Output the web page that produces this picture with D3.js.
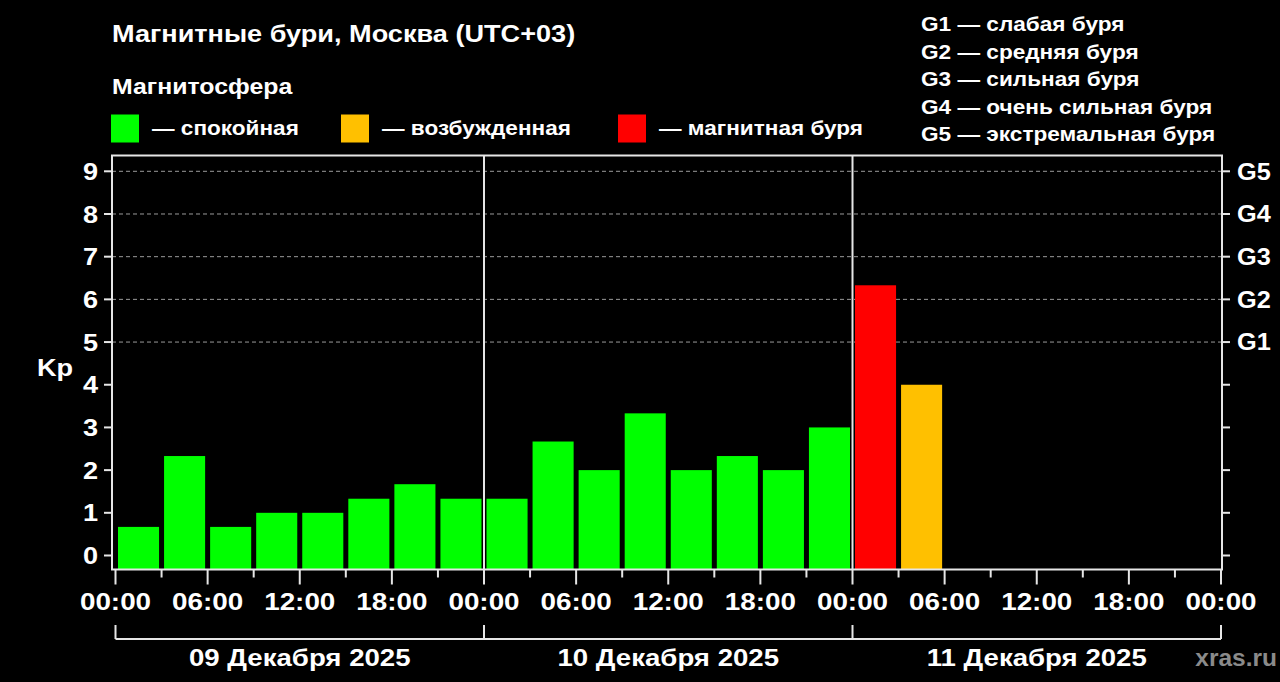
<!DOCTYPE html>
<html><head><meta charset="utf-8">
<script src="https://cdn.jsdelivr.net/npm/d3@7"></script>
<style>
html,body{margin:0;padding:0;background:#000;}
svg{display:block;}
text{font-family:"Liberation Sans",Arial,sans-serif;font-weight:bold;fill:#fff;}
</style></head>
<body><svg id="c" width="1280" height="682"></svg>
<script>
// ---- data ----
const days = ["09 Декабря 2025", "10 Декабря 2025", "11 Декабря 2025"];
const hourLabels = ["00:00", "06:00", "12:00", "18:00"];
const kpValues = [0.67, 2.33, 0.67, 1.0, 1.0, 1.33, 1.67, 1.33,
                  1.33, 2.67, 2.0, 3.33, 2.0, 2.33, 2.0, 3.0,
                  6.33, 4.0];
const levelNames = ["спокойная", "возбужденная", "магнитная буря"];
const levelColors = ["#00ff00", "#ffc000", "#ff0000"];
const gLabels = ["G1", "G2", "G3", "G4", "G5"];
const gNames = ["слабая буря", "средняя буря", "сильная буря", "очень сильная буря", "экстремальная буря"];
const yTicks = [0, 1, 2, 3, 4, 5, 6, 7, 8, 9];

function level(v) { return v >= 5 ? 2 : (v >= 4 ? 1 : 0); }

const svg = d3.select("#c");
const W = 1280, H = 682;
svg.append("rect").attr("width", W).attr("height", H).attr("fill", "#000");

// text helper with horizontal stretch
function txt(g, px, py, size, sx, anchor, str, dy) {
  const t = g.append("text")
    .attr("transform", `translate(${px},${py}) scale(${sx},1)`)
    .attr("font-size", size)
    .attr("text-anchor", anchor || "start")
    .text(str);
  if (dy) t.attr("dy", dy);
  return t;
}

const frameL = 112, frameR = 1222, frameT = 155.5, frameB = 569.5;
const x = d3.scaleLinear().domain([0, 72]).range([115.5, 1221]);
const y = d3.scaleLinear().domain([0, 9]).range([555.5, 171.3]);
const yBottom = y.invert(frameB);

// title & legends
txt(svg, 112, 42, 24, 1.13, "start", "Магнитные бури, Москва (UTC+03)");
txt(svg, 112, 94, 22, 1.13, "start", "Магнитосфера");
const legX = [111, 341, 618];
levelNames.forEach((n, i) => {
  svg.append("rect").attr("x", legX[i]).attr("y", 114.5).attr("width", 28).attr("height", 28).attr("fill", levelColors[i]);
  txt(svg, legX[i] + 41, 134.5, 21, 1.075, "start", "— " + n);
});
gLabels.forEach((g, i) => {
  txt(svg, 921, 31 + i * 27.5, 21, 1.077, "start", g + " — " + gNames[i]);
});

// grid lines (5..9)
const grid = svg.append("g");
yTicks.filter(t => t >= 5).forEach(t => {
  grid.append("line").attr("x1", frameL).attr("x2", frameR).attr("y1", y(t)).attr("y2", y(t))
    .attr("stroke", "#9a9a9a").attr("stroke-width", 1).attr("stroke-dasharray", "4,3");
});

// bars
svg.append("g").selectAll("rect").data(kpValues).join("rect")
  .attr("x", (d, i) => x(i * 3) + 2.5)
  .attr("width", (d, i) => x(i * 3 + 3) - x(i * 3) - 5)
  .attr("y", d => y(d))
  .attr("height", d => y(yBottom) - y(d))
  .attr("fill", d => levelColors[level(d)]);

// frame
const lc = "#e6e6e6";
svg.append("rect").attr("x", frameL).attr("y", frameT).attr("width", frameR - frameL).attr("height", frameB - frameT)
  .attr("fill", "none").attr("stroke", lc).attr("stroke-width", 2);
// day separators
[24, 48].forEach(h => {
  svg.append("line").attr("x1", x(h)).attr("x2", x(h)).attr("y1", frameT).attr("y2", frameB)
    .attr("stroke", lc).attr("stroke-width", 2);
});

// left y axis
const yl = svg.append("g");
yTicks.forEach(t => {
  yl.append("line").attr("x1", frameL - 8).attr("x2", frameL).attr("y1", y(t)).attr("y2", y(t)).attr("stroke", lc).attr("stroke-width", 2);
  txt(yl, 98, y(t), 24, 1.13, "end", t, "0.36em");
});
txt(svg, 55, 367, 24, 1.13, "middle", "Kp", "0.36em");

// right axis
const yr = svg.append("g");
yTicks.forEach(t => {
  yr.append("line").attr("x1", frameR).attr("x2", frameR + 8).attr("y1", y(t)).attr("y2", y(t)).attr("stroke", lc).attr("stroke-width", 2);
  if (t >= 5) txt(yr, 1237, y(t), 23, 1.1, "start", gLabels[t - 5], "0.36em");
});

// x axis ticks
const xa = svg.append("g");
d3.range(0, 73, 3).forEach(h => {
  const major = h % 6 === 0;
  xa.append("line").attr("x1", x(h)).attr("x2", x(h)).attr("y1", frameB).attr("y2", frameB + (major ? 15 : 8))
    .attr("stroke", lc).attr("stroke-width", 2);
  if (major) txt(xa, x(h), 610, 24, 1.16, "middle", hourLabels[(h / 6) % 4]);
});

// date brackets
const br = svg.append("g");
br.append("line").attr("x1", x(0)).attr("x2", x(72)).attr("y1", 639).attr("y2", 639).attr("stroke", lc).attr("stroke-width", 2);
[0, 24, 48, 72].forEach(h => {
  br.append("line").attr("x1", x(h)).attr("x2", x(h)).attr("y1", 625).attr("y2", 639).attr("stroke", lc).attr("stroke-width", 2);
});
days.forEach((d, i) => {
  txt(br, x(i * 24 + 12), 666, 24, 1.15, "middle", d);
});
txt(svg, 1277, 666, 23, 1.065, "end", "xras.ru").style("fill", "#8a8a8a");
</script></body></html>
